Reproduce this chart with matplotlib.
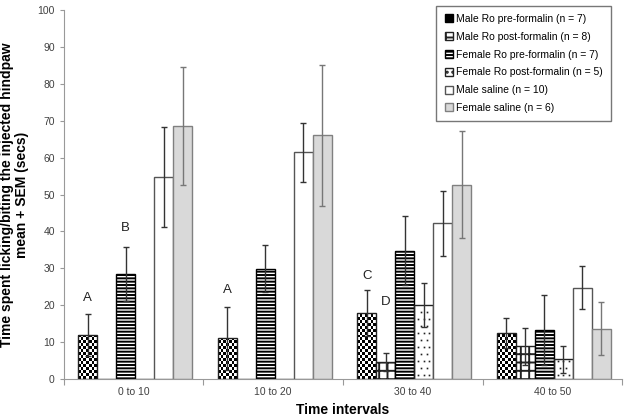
import numpy as np
import matplotlib.pyplot as plt
from matplotlib.patches import Patch

plt.rcParams['font.family'] = ['Liberation Sans', 'DejaVu Sans']
plt.rcParams['hatch.linewidth'] = 1.4

# data
intervals = ['0 to 10', '10 to 20', '30 to 40', '40 to 50']
series = ['Male Ro pre-formalin (n = 7)', 'Male Ro post-formalin (n = 8)',
          'Female Ro pre-formalin (n = 7)', 'Female Ro post-formalin (n = 5)',
          'Male saline (n = 10)', 'Female saline (n = 6)']
male_pre = [12.0, 11.0, 17.8, 12.5]
male_pre_sem = [5.7, 8.6, 6.2, 4.0]
male_post = [np.nan, np.nan, 4.6, 8.9]
male_post_sem = [np.nan, np.nan, 2.5, 5.0]
female_pre = [28.4, 29.9, 34.8, 13.3]
female_pre_sem = [7.3, 6.4, 9.3, 9.6]
female_post = [np.nan, np.nan, 20.0, 5.3]
female_post_sem = [np.nan, np.nan, 6.0, 3.7]
male_sal = [54.7, 61.5, 42.2, 24.7]
male_sal_sem = [13.6, 8.0, 8.8, 5.8]
female_sal = [68.5, 66.0, 52.7, 13.6]
female_sal_sem = [16.0, 19.0, 14.5, 7.2]

# significance letters: (group, series index, y)
letters = ['A', 'A', 'B', 'C', 'D']
letter_group = [0, 1, 0, 2, 2]
letter_series = [0, 0, 2, 0, 1]
letter_y = [22, 24, 41, 28, 21]

means = [male_pre, male_post, female_pre, female_post, male_sal, female_sal]
sems = [male_pre_sem, male_post_sem, female_pre_sem, female_post_sem, male_sal_sem, female_sal_sem]

fig = plt.figure(figsize=(6.26, 4.17), dpi=100)
ax = fig.add_axes([0.102, 0.091, 0.892, 0.885])

x = np.arange(len(intervals))
w = 0.136
styles = [
    dict(facecolor='none', edgecolor='#222222'),
    dict(facecolor='white', edgecolor='#222222', hatch='++'),
    dict(facecolor='white', edgecolor='black', hatch='-----'),
    dict(facecolor='none', edgecolor='#222222'),
    dict(facecolor='white', edgecolor='#555555'),
    dict(facecolor='#d9d9d9', edgecolor='#808080'),
]
err_cols = ['#333333', '#333333', '#333333', '#333333', '#333333', '#777777']

ax.set_xlim(-0.5, 3.5)
ax.set_ylim(0, 100)

containers = []
for k in range(6):
    pos = x + (k - 2.5) * w + 0.01
    bc = ax.bar(pos, np.nan_to_num(means[k]), width=w, linewidth=1.0, **styles[k])
    containers.append(bc)
    ax.errorbar(pos, means[k], yerr=sems[k], fmt='none', ecolor=err_cols[k],
                elinewidth=1.0, capsize=2, capthick=1.0, zorder=3)

# checkerboard fill for first series
cell_y = 0.8
for bar in containers[0]:
    bx, by = bar.get_xy()
    bw, bh = bar.get_width(), bar.get_height()
    ny = int(np.ceil(bh / cell_y))
    nx = 7
    grid = (np.add.outer(np.arange(ny), np.arange(nx)) % 2).astype(float)
    im = ax.imshow(grid, cmap='gray', extent=[bx, bx + bw, 0, ny * cell_y],
                   origin='lower', interpolation='nearest', aspect='auto', zorder=0.5)
    im.set_clip_path(bar)

# sparse dots for female post-formalin
for bar in containers[3]:
    if bar.get_height() <= 0:
        continue
    bx = bar.get_x()
    bw, bh = bar.get_width(), bar.get_height()
    ys = np.arange(1.0, bh, 1.9)
    for j, yy in enumerate(ys):
        xs = bx + bw * (np.array([0.2, 0.5, 0.8]) if j % 2 == 0 else np.array([0.35, 0.65]))
        ax.plot(xs, np.full(len(xs), yy), 's', ms=1.2, color='#222222', mew=0, zorder=1.5)

for i in range(len(letters)):
    bar = containers[letter_series[i]][letter_group[i]]
    ax.text(bar.get_x() + bar.get_width() / 2, letter_y[i], letters[i],
            ha='center', va='center', fontsize=9.5, color='#222222')

for s in ['top', 'right']:
    ax.spines[s].set_visible(False)
for s in ['left', 'bottom']:
    ax.spines[s].set_color('#999999')

ax.set_yticks(np.arange(0, 101, 10))
ax.tick_params(axis='y', colors='#999999', labelcolor='#404040', labelsize=7.5, length=3)
ax.set_xticks(np.arange(-0.5, 3.6, 1))
ax.set_xticklabels([])
ax.set_xticks(x, minor=True)
ax.set_xticklabels(intervals, minor=True)
ax.tick_params(axis='x', which='major', colors='#999999', length=4)
ax.tick_params(axis='x', which='minor', length=0, labelsize=7.5, labelcolor='#404040', pad=6)

ax.set_xlabel('Time intervals', fontsize=10, fontweight='bold', labelpad=4)
ax.set_ylabel('Time spent licking/biting the injected hindpaw\nmean + SEM (secs)',
              fontsize=10, fontweight='bold', linespacing=1.1)
ax.yaxis.set_label_coords(-0.062, 0.5)

handles = [Patch(facecolor='black', edgecolor='black', hatch='xxxx')]
for k in range(1, 6):
    st = dict(styles[k])
    if k == 3:
        st = dict(facecolor='white', edgecolor='#222222', hatch='...')
    handles.append(Patch(linewidth=1.0, **st))
leg = ax.legend(handles, series, loc='upper right', bbox_to_anchor=(0.98, 1.012),
                borderaxespad=0, fontsize=7.5, fancybox=False, edgecolor='#777777',
                handlelength=0.8, handleheight=0.8, handletextpad=0.3,
                labelspacing=0.75, borderpad=0.8, framealpha=1)
leg.get_frame().set_linewidth(1.0)

fig.savefig('out.png', dpi=100)
